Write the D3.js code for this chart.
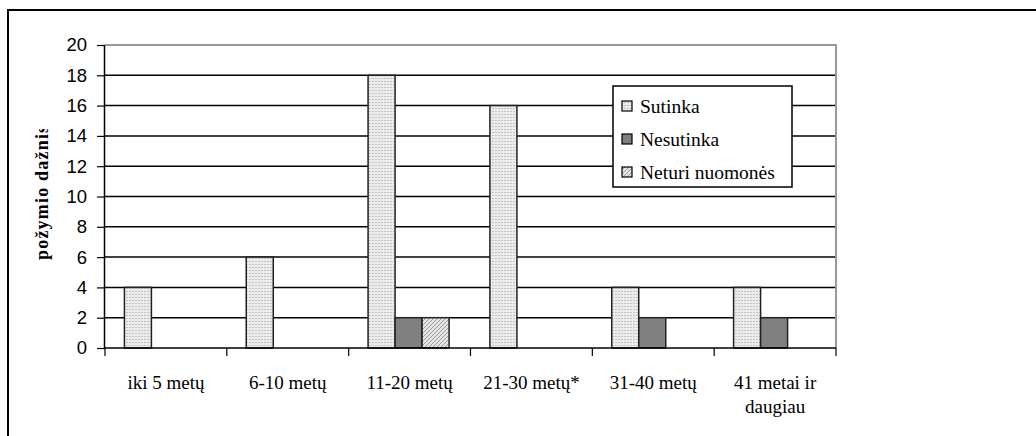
<!DOCTYPE html>
<html><head><meta charset="utf-8">
<script src="https://cdn.jsdelivr.net/npm/d3@7"></script>
<style>body{margin:0;background:#fff}svg{display:block}
.serif{font-family:"Liberation Serif","Times New Roman",serif}
.sans{font-family:"Liberation Sans",Arial,sans-serif}</style>
</head><body>
<script>
const categories = [["iki 5 metų"],["6-10 metų"],["11-20 metų"],["21-30 metų*"],["31-40 metų"],["41 metai ir","daugiau"]];
const seriesNames = ["Sutinka","Nesutinka","Neturi nuomonės"];
const sutinka = [4,6,18,16,4,4];
const nesutinka = [0,0,2,0,2,2];
const neturi = [0,0,2,0,0,0];
const yTicks = [0,2,4,6,8,10,12,14,16,18,20];
const series = [sutinka, nesutinka, neturi];

const W=1036,H=436;
const svg=d3.select("body").append("svg").attr("width",W).attr("height",H);
const defs=svg.append("defs");
const p1=defs.append("pattern").attr("id","dots").attr("width",3).attr("height",3).attr("patternUnits","userSpaceOnUse");
p1.append("rect").attr("width",3).attr("height",3).attr("fill","#ececec");
p1.append("rect").attr("width",2).attr("height",1).attr("fill","#c4c4c4");
const p3=defs.append("pattern").attr("id","hatch").attr("width",4).attr("height",4).attr("patternUnits","userSpaceOnUse");
p3.append("rect").attr("width",4).attr("height",4).attr("fill","#e4e4e4");
p3.append("path").attr("d","M-1,1 l2,-2 M0,4 l4,-4 M3,5 l2,-2").attr("stroke","#9a9a9a").attr("stroke-width",1);
const fills=["url(#dots)","#808080","url(#hatch)"];

// outer frame
svg.append("rect").attr("x",8).attr("y",10).attr("width",1100).attr("height",500).attr("fill","none").attr("stroke","#000").attr("stroke-width",2);

const L=105,R=836,T=45,B=348;
const x=d3.scaleBand().domain(d3.range(categories.length)).range([L,R]);
const y=d3.scaleLinear().domain([0,20]).range([B,T]);
const bw=27;
const gx=d3.scaleBand().domain(d3.range(3)).range([0,bw*3]);

// grid
svg.append("g").selectAll("line").data(yTicks.filter(d=>d>0&&d<20)).join("line")
 .attr("x1",L).attr("x2",R).attr("y1",d=>y(d)).attr("y2",d=>y(d)).attr("stroke","#000").attr("stroke-width",1.5);
// plot border top/right gray
svg.append("path").attr("d",`M${L},${y(20)}H${R}V${B}`).attr("fill","none").attr("stroke","#999").attr("stroke-width",2);

// bars
const g=svg.append("g");
series.forEach((s,si)=>{
  g.selectAll(null).data(s.map((v,i)=>({v,i}))).join("rect")
   .filter(d=>d.v>0)
   .attr("x",d=>x(d.i)+x.bandwidth()/2-bw*1.5+gx(si)-1)
   .attr("y",d=>y(d.v)).attr("width",bw).attr("height",d=>B-y(d.v))
   .attr("fill",fills[si]).attr("stroke","#222").attr("stroke-width",1.5);
});

// y axis
const ya=svg.append("g").attr("transform",`translate(${L},0)`).call(d3.axisLeft(y).tickValues(yTicks).tickSize(8).tickPadding(10));
ya.attr("font-family",null).attr("font-size",null);
ya.select(".domain").attr("stroke","#000").attr("stroke-width",1.5).attr("d",`M-0.5,${T}V${B}`);
ya.selectAll(".tick line").attr("stroke","#000").attr("stroke-width",1.2);
ya.selectAll("text").attr("class","sans").style("font-size","18.5px").attr("fill","#000");

// x axis
svg.append("line").attr("x1",L).attr("x2",R).attr("y1",B).attr("y2",B).attr("stroke","#000").attr("stroke-width",1.5);
const bounds=d3.range(categories.length+1).map(i=>i<categories.length?x(i):R);
svg.append("g").selectAll("line").data(bounds).join("line")
 .attr("x1",d=>d).attr("x2",d=>d).attr("y1",B).attr("y2",B+8).attr("stroke","#000").attr("stroke-width",1.2);
const xl=svg.append("g").selectAll("text").data(categories).join("text")
 .attr("class","serif")
 .attr("x",(d,i)=>x(i)+x.bandwidth()/2).attr("y",389)
 .attr("text-anchor","middle").style("font-size","19px").attr("fill","#000");
xl.each(function(d){
  const t=d3.select(this);
  d.forEach((line,j)=>t.append("tspan").attr("x",t.attr("x")).attr("dy",j?24:0).text(line));
});

// y title (clipped as in reference)
defs.append("clipPath").attr("id","yclip").append("rect").attr("x",20).attr("y",129).attr("width",50).attr("height",150);
svg.append("g").attr("clip-path","url(#yclip)").append("text").attr("class","serif")
 .attr("transform","translate(48,260) rotate(-90)").attr("text-anchor","start")
 .attr("font-weight","bold").style("font-size","18px").style("letter-spacing","1.2px").attr("fill","#000")
 .text("požymio dažnis");

// legend
const lg=svg.append("g");
lg.append("rect").attr("x",613).attr("y",86).attr("width",179).attr("height",101).attr("fill","#fff").attr("stroke","#000").attr("stroke-width",1.5);
seriesNames.forEach((n,i)=>{
  const yy=106+i*33;
  lg.append("rect").attr("x",622).attr("y",yy-5).attr("width",10).attr("height",10).attr("fill",fills[i]).attr("stroke","#000").attr("stroke-width",1.2);
  lg.append("text").attr("class","serif").attr("x",640).attr("y",yy+7).style("font-size","19.5px").attr("fill","#000").text(n);
});
</script>
</body></html>
